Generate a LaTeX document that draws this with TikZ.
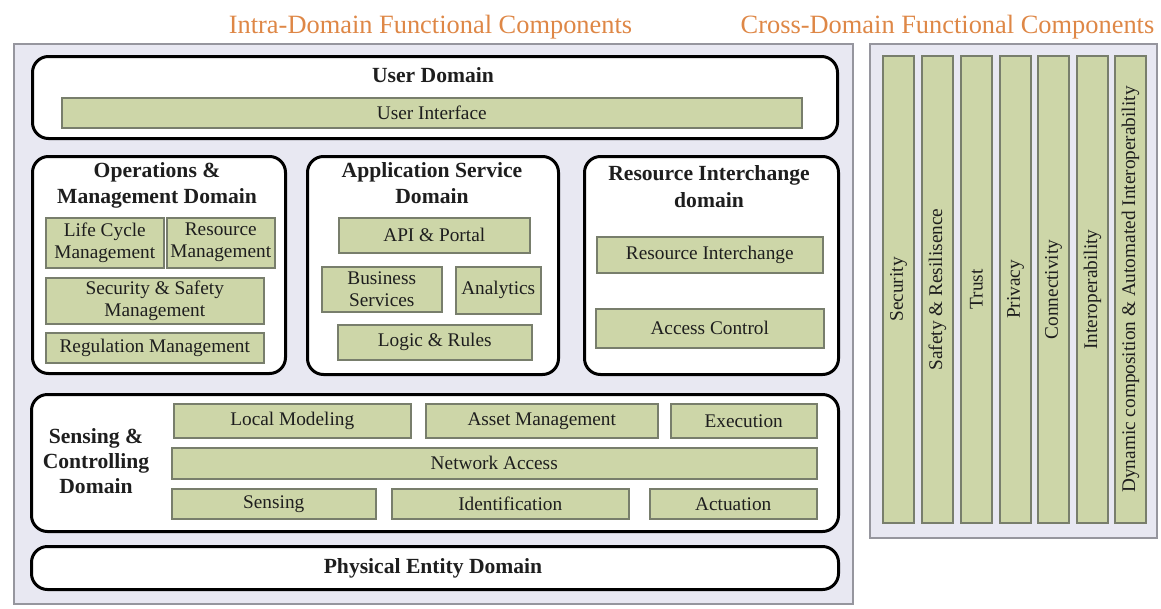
\documentclass[tikz,border=0pt]{standalone}
\usepackage{fontspec}
\setmainfont{Liberation Serif}
\definecolor{panelfill}{RGB}{232,232,242}
\definecolor{panelline}{RGB}{150,150,158}
\definecolor{barfill}{RGB}{205,214,168}
\definecolor{barline}{RGB}{120,126,108}
\definecolor{titleorange}{RGB}{222,135,70}
\definecolor{txt}{RGB}{30,30,30}
\tikzset{
 panel/.style={draw=panelline, fill=panelfill, line width=1.5pt, anchor=north west, inner sep=0pt},
 domainbox/.style={draw=black, fill=white, line width=3pt, rounded corners=16pt, anchor=north west, inner sep=0pt},
 bar/.style={draw=barline, fill=barfill, line width=1.5pt, anchor=north west, inner sep=0pt,
   font=\fontsize{19.3}{22}\selectfont, text=txt, align=center},
 vbar/.style={bar, anchor=center, rotate=90, minimum width=467pt, minimum height=31pt},
 dtitle/.style={font=\bfseries\fontsize{21.6}{25.5}\selectfont, inner sep=0pt, text=txt, anchor=base},
 htitle/.style={font=\fontsize{26.4}{30}\selectfont, text=titleorange, inner sep=0pt, anchor=base},
}
\begin{document}
\begin{tikzpicture}[x=1pt,y=-1pt]
\useasboundingbox (0,0) rectangle (1161,608);
% headings
\node[htitle] (hintra) at (430.5,33) {Intra-Domain Functional Components};
\node[htitle] (hcross) at (947.5,33) {Cross-Domain Functional Components};
% panels
\node[panel, minimum width=839pt, minimum height=560pt] (lpanel) at (13,43) {};
\node[panel, minimum width=287pt, minimum height=494pt] (rpanel) at (869,43) {};
% user domain
\node[domainbox, minimum width=805pt, minimum height=82pt] (user) at (31,55) {};
\node[dtitle] (userT) at (433,82) {User Domain};
\node[bar, minimum width=740pt, minimum height=30pt] (ui) at (61,97) {User Interface};
% operations & management
\node[domainbox, minimum width=253pt, minimum height=217pt] (ops) at (31,155) {};
\node[dtitle] (opsT1) at (157,177) {Operations \&};
\node[dtitle] (opsT2) at (157,203) {Management Domain};
\node[bar, minimum width=118pt, minimum height=50pt] (lcm) at (45,217) {Life Cycle\\Management};
\node[bar, minimum width=108pt, minimum height=50pt] (rm) at (166,217) {Resource\\Management};
\node[bar, minimum width=218pt, minimum height=46pt] (ssm) at (45,277) {Security \& Safety\\Management};
\node[bar, minimum width=218pt, minimum height=30pt] (regm) at (45,332) {Regulation Management};
% application service
\node[domainbox, minimum width=251pt, minimum height=218pt] (app) at (306,155) {};
\node[dtitle] (appT1) at (432,177) {Application Service};
\node[dtitle] (appT2) at (432,203) {Domain};
\node[bar, minimum width=191pt, minimum height=35pt] (api) at (338,217) {API \& Portal};
\node[bar, minimum width=120pt, minimum height=45pt] (bs) at (321,266) {Business\\Services};
\node[bar, minimum width=85pt, minimum height=47pt] (ana) at (455,266) {Analytics};
\node[bar, minimum width=194pt, minimum height=35pt] (lr) at (337,324) {Logic \& Rules};
% resource interchange
\node[domainbox, minimum width=254pt, minimum height=218pt] (ri) at (583,155) {};
\node[dtitle] (riT1) at (709,180) {Resource Interchange};
\node[dtitle] (riT2) at (709,207) {domain};
\node[bar, minimum width=226pt, minimum height=36pt] (rie) at (596,236) {Resource Interchange};
\node[bar, minimum width=228pt, minimum height=39pt] (ac) at (595,308) {Access Control};
% sensing & controlling
\node[domainbox, minimum width=807pt, minimum height=137pt] (sc) at (30,393) {};
\node[dtitle] (scT1) at (96,443) {Sensing \&};
\node[dtitle] (scT2) at (96,468) {Controlling};
\node[dtitle] (scT3) at (96,493) {Domain};
\node[bar, minimum width=237pt, minimum height=34pt] (lm) at (173,403) {Local Modeling};
\node[bar, minimum width=232pt, minimum height=34pt] (am) at (425,403) {Asset Management};
\node[bar, minimum width=146pt, minimum height=34pt] (ex) at (670,403) {Execution};
\node[bar, minimum width=645pt, minimum height=31pt] (na) at (171,447) {Network Access};
\node[bar, minimum width=204pt, minimum height=30pt] (sen) at (171,488) {Sensing};
\node[bar, minimum width=237pt, minimum height=30pt] (idf) at (391,488) {Identification};
\node[bar, minimum width=167pt, minimum height=30pt] (act) at (649,488) {Actuation};
% physical entity
\node[domainbox, minimum width=807pt, minimum height=43pt] (pe) at (30,545) {};
\node[dtitle] (peT) at (433,573) {Physical Entity Domain};
% cross-domain bars
\node[vbar] (c1) at (898.5,289.5) {Security};
\node[vbar] (c2) at (937.5,289.5) {Safety \& Resilisence};
\node[vbar] (c3) at (976.5,289.5) {Trust};
\node[vbar] (c4) at (1015.5,289.5) {Privacy};
\node[vbar] (c5) at (1053.5,289.5) {Connectivity};
\node[vbar] (c6) at (1092.5,289.5) {Interoperability};
\node[vbar] (c7) at (1130.5,289.5) {Dynamic composition \& Automated Interoperability};
\end{tikzpicture}
\end{document}
